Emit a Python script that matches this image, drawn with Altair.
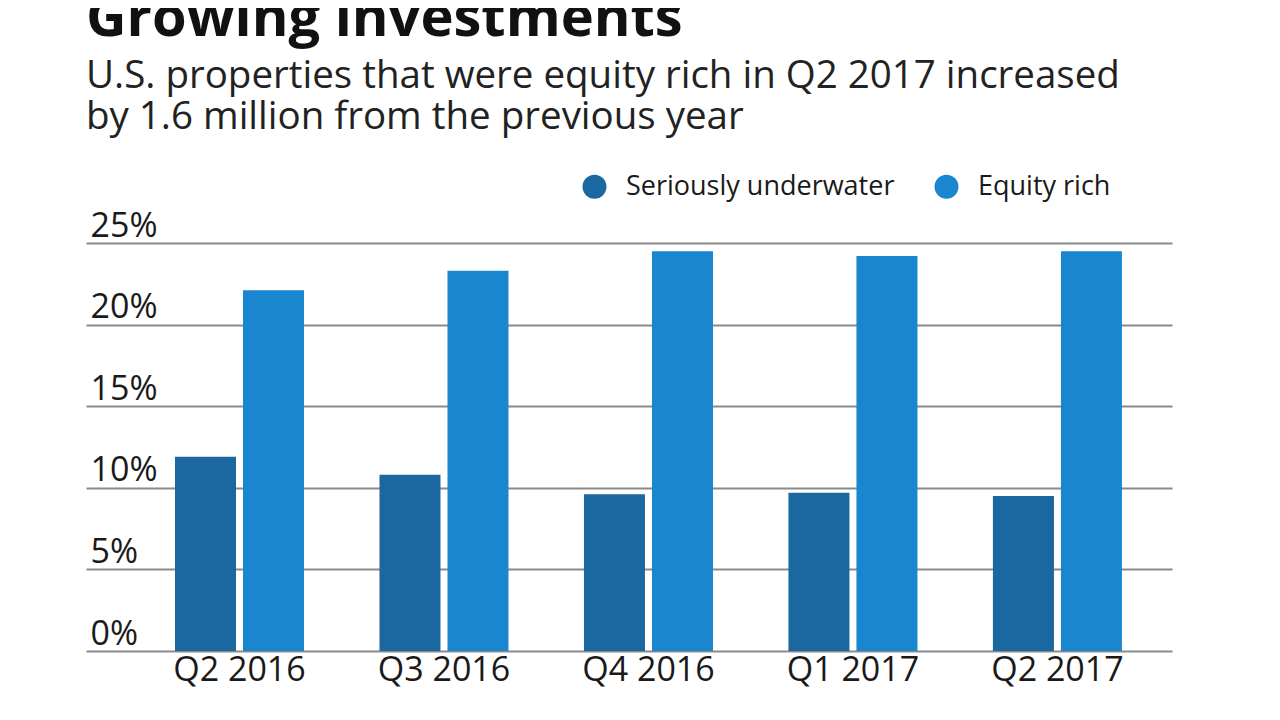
import altair as alt
import pandas as pd

quarters = ["Q2 2016", "Q3 2016", "Q4 2016", "Q1 2017", "Q2 2017"]
series = ["Seriously underwater", "Equity rich"]
underwater = [11.9, 10.8, 9.6, 9.7, 9.5]
equity_rich = [22.1, 23.3, 24.5, 24.2, 24.5]
y_ticks = [0, 5, 10, 15, 20, 25]
colors = ["#1b67a0", "#1b86d0"]

title_text = "Growing investments"
subtitle_lines = [
    "U.S. properties that were equity rich in Q2 2017 increased",
    "by 1.6 million from the previous year",
]

rows = []
for q, u, e in zip(quarters, underwater, equity_rich):
    rows.append({"quarter": q, "series": series[0], "value": u})
    rows.append({"quarter": q, "series": series[1], "value": e})
df = pd.DataFrame(rows)

FONT = "Open Sans"
TEXT = "#1a1a1a"

chart = alt.Chart(df).mark_bar().encode(
    x=alt.X(
        "quarter:N", sort=quarters, title=None,
        scale=alt.Scale(paddingInner=0.369, paddingOuter=0.34, align=0.64),
        axis=alt.Axis(labelAngle=0, domain=False, ticks=False, labelPadding=2,
                      labelFontSize=34, labelFont=FONT, labelColor=TEXT),
    ),
    xOffset=alt.XOffset("series:N", sort=series,
                        scale=alt.Scale(paddingInner=0.103, paddingOuter=0)),
    y=alt.Y(
        "value:Q", title=None, scale=alt.Scale(domain=[0, 25], nice=False),
        axis=alt.Axis(values=y_ticks, labelExpr="datum.value + '%'", domain=False,
                      ticks=False, labelAlign="left", labelBaseline="alphabetic",
                      labelPadding=-4, labelOffset=-7, grid=True, gridColor="#8a8a8a",
                      gridWidth=2, labelFontSize=34, labelFont=FONT, labelColor=TEXT),
    ),
    color=alt.Color(
        "series:N", sort=series, scale=alt.Scale(domain=series, range=colors),
        legend=alt.Legend(title=None, orient="none", legendX=495, legendY=-70,
                          direction="horizontal", symbolType="circle", symbolSize=576,
                          labelFontSize=27, labelFont=FONT, labelColor=TEXT,
                          labelLimit=500, labelOffset=18, columnPadding=38, padding=0,
                          symbolStrokeWidth=0, symbolOpacity=1),
    ),
).properties(
    width=1086,
    height=408,
    title=alt.TitleParams(
        text=title_text, subtitle=subtitle_lines, anchor="start", frame="group",
        font=FONT, fontSize=56, fontWeight="bold", color="#111111",
        subtitleFont=FONT, subtitleFontSize=38.5, subtitleColor="#222222",
        subtitleLineHeight=41, subtitlePadding=10, offset=36,
    ),
    padding={"left": 78, "top": 235, "right": 90, "bottom": 60},
    autosize=alt.AutoSizeParams(type="none"),
).configure_view(stroke="transparent")

chart.save("out.html", embed_options={"renderer": "svg", "actions": False})
